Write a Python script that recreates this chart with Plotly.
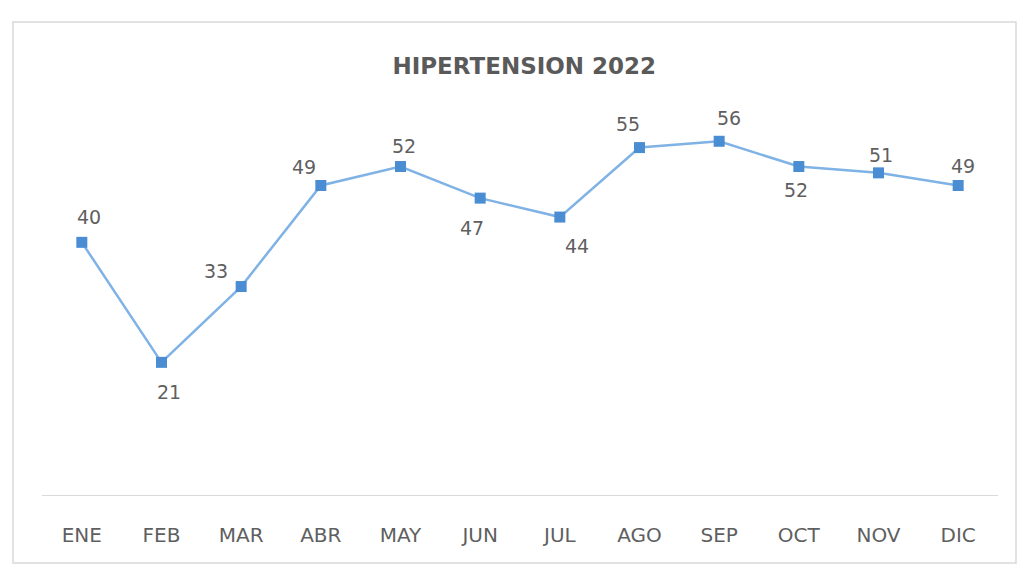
import plotly.graph_objects as go

months = ["ENE", "FEB", "MAR", "ABR", "MAY", "JUN", "JUL", "AGO", "SEP", "OCT", "NOV", "DIC"]
cases = [40, 21, 33, 49, 52, 47, 44, 55, 56, 52, 51, 49]

# per-label nudges (pixels) for the data labels: right, up
label_dx = [7, 7, -25, -17, 3, -8, 17, -12, 10, -3, 2, 5]
label_dy = [25, -30, 16, 18, 21, -30, -29, 24, 23, -23, 18, 19]

W, H = 1024, 569
ML, MR, MT, MB = 42, 26, 116, 74
pw, ph = W - ML - MR, H - MT - MB


def px_x(px):
    return (px - ML) / pw


def px_y(py):
    return (H - MB - py) / ph


fig = go.Figure()
fig.add_trace(go.Scatter(
    x=list(range(len(months))), y=cases,
    mode="lines+markers",
    line=dict(color="#7fb2e5", width=2.5),
    marker=dict(symbol="square", size=11, color="#4a8dd3"),
    cliponaxis=False,
    hoverinfo="skip",
))

annotations = []
for i, v in enumerate(cases):
    annotations.append(dict(
        x=i, y=v, xref="x", yref="y", text=str(v), showarrow=False,
        xshift=label_dx[i], yshift=label_dy[i],
        xanchor="center", yanchor="middle",
        font=dict(family="DejaVu Sans", size=19, color="#5f5f5f"),
    ))

fig.update_layout(
    width=W, height=H,
    margin=dict(l=ML, r=MR, t=MT, b=MB),
    paper_bgcolor="white", plot_bgcolor="white",
    showlegend=False,
    title=dict(text="<b>HIPERTENSION 2022</b>", x=0.512, xanchor="center",
               y=1 - 66 / H, yanchor="middle",
               font=dict(family="DejaVu Sans", size=23, color="#5a5a5a")),
    xaxis=dict(range=[-0.5, 11.5], tickmode="array",
               tickvals=list(range(len(months))), ticktext=months,
               showgrid=False, zeroline=False, showline=True,
               linecolor="#dadada", linewidth=1, ticks="",
               tickfont=dict(family="DejaVu Sans", size=20, color="#5f5f5f"),
               ticklabelstandoff=22),
    yaxis=dict(range=[0, 60], visible=False, showgrid=False),
    annotations=annotations,
    shapes=[dict(type="rect", xref="paper", yref="paper",
                 x0=px_x(13), x1=px_x(1016), y0=px_y(563), y1=px_y(22),
                 line=dict(color="#d9d9d9", width=1.5))],
)

fig.write_html("out.html")
